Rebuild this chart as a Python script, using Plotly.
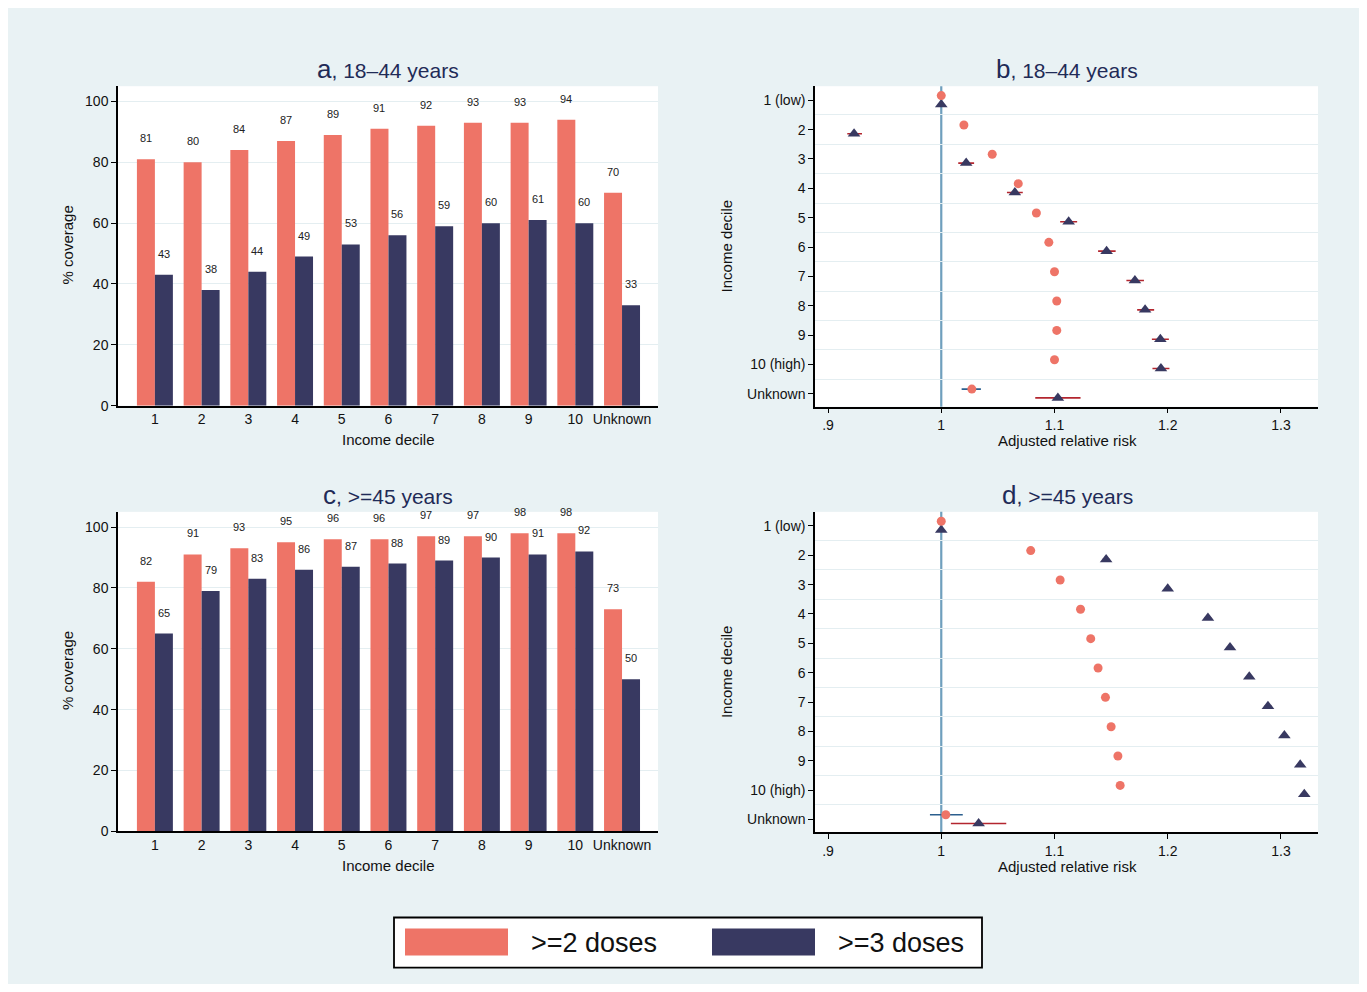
import plotly.graph_objects as go

# ---------------- data ----------------
deciles = ["1", "2", "3", "4", "5", "6", "7", "8", "9", "10", "Unknown"]
forest_labels = ["1 (low)", "2", "3", "4", "5", "6", "7", "8", "9", "10 (high)", "Unknown"]

# panel a: 18-44 years coverage (%)
a_two = [81, 80, 84, 87, 89, 91, 92, 93, 93, 94, 70]
a_three = [43, 38, 44, 49, 53, 56, 59, 60, 61, 60, 33]
# panel c: >=45 years coverage (%)
c_two = [82, 91, 93, 95, 96, 96, 97, 97, 98, 98, 73]
c_three = [65, 79, 83, 86, 87, 88, 89, 90, 91, 92, 50]

# panel b: 18-44 years adjusted relative risk
b_two = [1.000, 1.020, 1.045, 1.068, 1.084, 1.095, 1.100, 1.102, 1.102, 1.100, 1.027]
b_two_lo = [1.000, 1.018, 1.043, 1.066, 1.082, 1.093, 1.098, 1.100, 1.100, 1.098, 1.018]
b_two_hi = [1.000, 1.022, 1.047, 1.070, 1.086, 1.097, 1.102, 1.104, 1.104, 1.102, 1.035]
b_three = [1.000, 0.923, 1.022, 1.065, 1.1125, 1.146, 1.171, 1.180, 1.1935, 1.194, 1.103]
b_three_lo = [1.000, 0.917, 1.015, 1.058, 1.105, 1.1385, 1.1635, 1.173, 1.186, 1.1865, 1.083]
b_three_hi = [1.000, 0.930, 1.029, 1.072, 1.120, 1.154, 1.179, 1.188, 1.201, 1.2015, 1.123]

# panel d: >=45 years adjusted relative risk
d_two = [1.000, 1.079, 1.105, 1.123, 1.132, 1.1385, 1.145, 1.150, 1.156, 1.158, 1.004]
d_two_lo = [1.000, 1.078, 1.104, 1.122, 1.131, 1.1375, 1.144, 1.149, 1.155, 1.157, 0.990]
d_two_hi = [1.000, 1.080, 1.106, 1.124, 1.133, 1.1395, 1.146, 1.151, 1.157, 1.159, 1.019]
d_three = [1.000, 1.1456, 1.200, 1.2355, 1.255, 1.272, 1.2885, 1.303, 1.317, 1.3206, 1.033]
d_three_lo = [1.000, 1.1426, 1.197, 1.2325, 1.252, 1.269, 1.2855, 1.300, 1.314, 1.3176, 1.0085]
d_three_hi = [1.000, 1.1486, 1.203, 1.2385, 1.258, 1.275, 1.2915, 1.306, 1.320, 1.3236, 1.0574]

rr_ticks = [0.9, 1.0, 1.1, 1.2, 1.3]
rr_ticktext = [".9", "1", "1.1", "1.2", "1.3"]
cov_ticks = [0, 20, 40, 60, 80, 100]

# ---------------- style ----------------
RED = "#ee7467"
NAVY = "#383961"
BG = "#e9f2f4"
GRID = "#e4eef1"
TITLE_COL = "#1f2b57"
FONT = "Liberation Sans, Arial, sans-serif"

W, H, OFF = 1351, 976, 8


def fx(px):
    return (px - OFF) / W


def fy(py):
    py = 101 + (py - 101) * 1.0098
    return 1 - (py - OFF) / H


fig = go.Figure()
idx = list(range(len(deciles)))
BW = 0.385

# bar panels
for xa, ya, two, three in [("x", "y", a_two, a_three), ("x3", "y3", c_two, c_three)]:
    fig.add_trace(go.Bar(x=idx, y=two, marker_color=RED, marker_line_width=0, width=BW,
                         offset=-BW, xaxis=xa, yaxis=ya, showlegend=False, name=">=2 doses"))
    fig.add_trace(go.Bar(x=idx, y=three, marker_color=NAVY, marker_line_width=0, width=BW,
                         offset=0, xaxis=xa, yaxis=ya, showlegend=False, name=">=3 doses"))
    for i in idx:
        fig.add_annotation(x=i - BW / 2, y=two[i], xref=xa, yref=ya, text=str(two[i]),
                           showarrow=False, yshift=21, font=dict(size=11, color="#222", family=FONT))
        fig.add_annotation(x=i + BW / 2, y=three[i], xref=xa, yref=ya, text=str(three[i]),
                           showarrow=False, yshift=21, font=dict(size=11, color="#222", family=FONT))

# forest panels
ypos = [i + 1 for i in idx]
for xa, ya, two, tlo, thi, three, hlo, hhi in [
    ("x2", "y2", b_two, b_two_lo, b_two_hi, b_three, b_three_lo, b_three_hi),
    ("x4", "y4", d_two, d_two_lo, d_two_hi, d_three, d_three_lo, d_three_hi),
]:
    fig.add_shape(type="line", xref=xa, yref=ya + " domain", x0=1, x1=1, y0=0, y1=1,
                  line=dict(color="#6f9fbd", width=2.2), layer="below")
    fig.add_trace(go.Scatter(
        x=three, y=[p + 0.14 for p in ypos], mode="markers", xaxis=xa, yaxis=ya, showlegend=False,
        marker=dict(symbol="triangle-up", size=11, color=NAVY),
        error_x=dict(type="data", symmetric=False,
                     array=[h - v for h, v in zip(hhi, three)],
                     arrayminus=[v - l for v, l in zip(three, hlo)],
                     color="#b3262f", thickness=1.6, width=0)))
    fig.add_trace(go.Scatter(
        x=two, y=[p - 0.16 for p in ypos], mode="markers", xaxis=xa, yaxis=ya, showlegend=False,
        marker=dict(symbol="circle", size=9, color=RED),
        error_x=dict(type="data", symmetric=False,
                     array=[h - v for h, v in zip(thi, two)],
                     arrayminus=[v - l for v, l in zip(two, tlo)],
                     color="#2b5f8e", thickness=1.6, width=0)))

axis_common = dict(showline=True, linecolor="black", linewidth=1.5, mirror=False,
                   tickfont=dict(size=14, color="#111", family=FONT), zeroline=False)

bar_x = dict(axis_common, tickmode="array", tickvals=idx, ticktext=deciles, ticks="",
             range=[-0.79, 10.77], showgrid=False, tickangle=0)
bar_y = dict(axis_common, tickmode="array", tickvals=cov_ticks, ticks="outside", ticklen=5,
             tickwidth=1.3, tickcolor="black", range=[0, 105], showgrid=True,
             gridcolor=GRID, gridwidth=1.2)
for_x = dict(axis_common, tickmode="array", tickvals=rr_ticks, ticktext=rr_ticktext,
             ticks="outside", ticklen=5, tickwidth=1.3, tickcolor="black",
             range=[0.8885, 1.3327], showgrid=False)
for_y = dict(axis_common, tickmode="array", tickvals=ypos, ticktext=forest_labels,
             ticks="outside", ticklen=5, tickwidth=1.3, tickcolor="black",
             range=[11.44, 0.52], showgrid=False,
             minor=dict(tickmode="linear", tick0=0.5, dtick=1, showgrid=True,
                        gridcolor=GRID, gridwidth=1.2, ticks=""))

fig.update_layout(
    width=W, height=H, margin=dict(l=0, r=0, t=0, b=0),
    paper_bgcolor=BG, plot_bgcolor="white", font=dict(family=FONT),
    barmode="overlay", bargap=0.23,
    xaxis=dict(bar_x, domain=[fx(118), fx(658)], anchor="y"),
    yaxis=dict(bar_y, domain=[fy(406), fy(87)], anchor="x"),
    xaxis3=dict(bar_x, domain=[fx(118), fx(658)], anchor="y3"),
    yaxis3=dict(bar_y, domain=[fy(831), fy(512)], anchor="x3"),
    xaxis2=dict(for_x, domain=[fx(815), fx(1318)], anchor="y2"),
    yaxis2=dict(for_y, domain=[fy(407), fy(87)], anchor="x2"),
    xaxis4=dict(for_x, domain=[fx(815), fx(1318)], anchor="y4"),
    yaxis4=dict(for_y, domain=[fy(832), fy(512)], anchor="x4"),
)

# titles
titles = [("a", ", 18–44 years", 388, 70), ("b", ", 18–44 years", 1067, 70),
          ("c", ", >=45 years", 388, 495), ("d", ", >=45 years", 1067, 495)]
for letter, rest, px, py in titles:
    fig.add_annotation(xref="paper", yref="paper", x=fx(px), y=fy(py), showarrow=False,
                       text=f"<span style='font-size:26px'>{letter}</span>{rest}",
                       font=dict(size=21, color=TITLE_COL, family=FONT),
                       xanchor="center", yanchor="middle")

# axis titles
for px, py, txt, ang in [(67, 246, "% coverage", -90), (67, 671, "% coverage", -90),
                         (388, 440, "Income decile", 0), (388, 865, "Income decile", 0),
                         (726, 247, "Income decile", -90), (726, 672, "Income decile", -90),
                         (1067, 441, "Adjusted relative risk", 0),
                         (1067, 866, "Adjusted relative risk", 0)]:
    fig.add_annotation(xref="paper", yref="paper", x=fx(px), y=fy(py), showarrow=False,
                       text=txt, textangle=ang, font=dict(size=15, color="#111", family=FONT),
                       xanchor="center", yanchor="middle")

# legend box
fig.add_shape(type="rect", xref="paper", yref="paper", x0=fx(394), x1=fx(982),
              y0=fy(967), y1=fy(917), fillcolor="white", line=dict(color="black", width=1.8))
for color, label, sx in [(RED, ">=2 doses", 405), (NAVY, ">=3 doses", 712)]:
    fig.add_shape(type="rect", xref="paper", yref="paper", x0=fx(sx), x1=fx(sx + 103),
                  y0=fy(955), y1=fy(928), fillcolor=color, line=dict(width=0))
    fig.add_annotation(xref="paper", yref="paper", x=fx(sx + 124), y=fy(942), showarrow=False,
                       text=label, xanchor="left", yanchor="middle",
                       font=dict(size=27, color="#111", family=FONT))

fig.write_html("out.html")
